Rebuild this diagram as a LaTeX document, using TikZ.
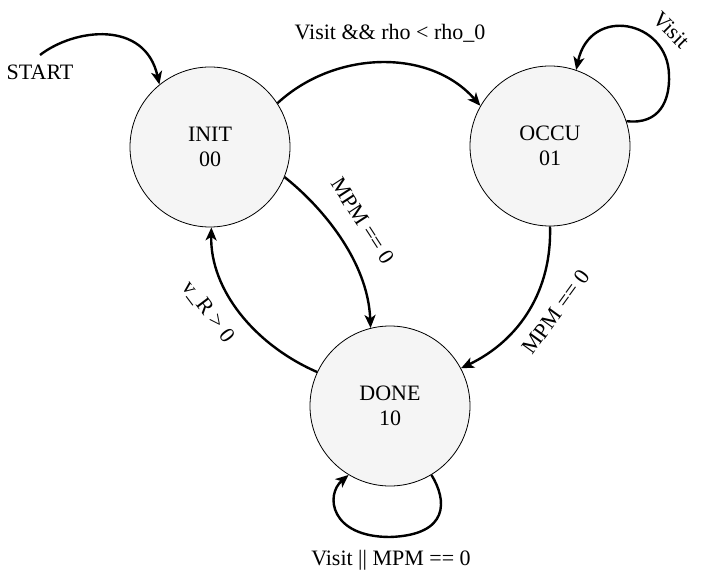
\documentclass[tikz,border=0pt]{standalone}
\usepackage{fontspec}
\setmainfont{Liberation Serif}
\usetikzlibrary{arrows.meta}
\definecolor{statefill}{HTML}{F5F5F5}
\tikzset{
  state/.style={circle, draw=black, line width=0.8pt, fill=statefill, minimum size=160pt, inner sep=0pt, align=center, font=\fontsize{22}{25}\selectfont},
  conn/.style={line width=2.4pt, -{Stealth[length=13pt, width=11pt, inset=3.5pt]}},
  lbl/.style={inner sep=0pt, font=\fontsize{22}{25}\selectfont}
}
\begin{document}
\begin{tikzpicture}[x=1pt, y=-1pt]
\useasboundingbox (0,0) rectangle (704,577);
\node[state] (INIT) at (210,147) {INIT\\00};
\node[state] (OCCU) at (550,146) {OCCU\\01};
\node[state] (DONE) at (390,406) {DONE\\10};
\coordinate (S) at (40,55);
\coordinate (LR) at (669,75);
\coordinate (LB) at (390,537);
% start
\draw[conn] (S) .. controls (75,28) and (145,20) .. (INIT.129);
% INIT -> OCCU
\draw[conn] (INIT.33) .. controls (335,50) and (430,48) .. (OCCU.150);
% OCCU self loop
\draw[conn] (OCCU.18) .. controls (660,125) and (670,100) .. (LR) .. controls (668,20) and (590,5) .. (OCCU.71);
% INIT -> DONE
\draw[conn] (INIT.-22) .. controls (320,205) and (368,260) .. (DONE.104);
% DONE -> INIT
\draw[conn] (DONE.155) .. controls (255,345) and (210,290) .. (INIT.-89);
% OCCU -> DONE
\draw[conn] (OCCU.-90) .. controls (552,290) and (520,340) .. (DONE.28);
% DONE self loop
\draw[conn] (DONE.-59) .. controls (447,500) and (450,535) .. (LB) .. controls (330,537) and (325,495) .. (DONE.-121);
% labels
\node[lbl] (lstart) at (40,72) {START};
\node[lbl] (lio) at (390,33) {Visit \&\& rho < rho\_0};
\node[lbl, rotate=-45] (locc) at (671,30) {Visit};
\node[lbl, rotate=-57] (lid) at (363,221) {MPM == 0};
\node[lbl, rotate=54] (lod) at (556,312) {MPM == 0};
\node[lbl, rotate=-53] (ldi) at (208,312) {v\_R > 0};
\node[lbl] (ldone) at (391,560) {Visit || MPM == 0};
\end{tikzpicture}
\end{document}
